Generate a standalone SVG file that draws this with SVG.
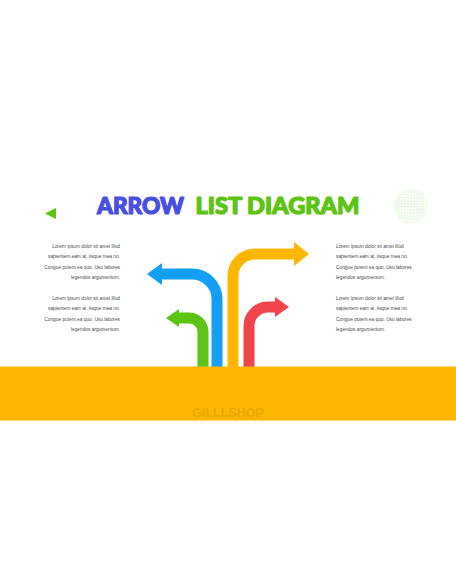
<svg xmlns="http://www.w3.org/2000/svg" width="456" height="586" viewBox="0 0 456 586">
  <style>
    .para { font-family: "Liberation Sans", Arial, sans-serif; font-size: 4.8px; fill: #4a4a4a; }
    .title { font-family: "Lato", "Liberation Sans", sans-serif; font-weight: 900; font-size: 22px; stroke-width: 1.2; stroke-linejoin: round; }
    .stem { fill: none; stroke-width: 11; }
  </style>
  <defs>
    <pattern id="dots" width="3" height="3" patternUnits="userSpaceOnUse">
      <circle cx="0.75" cy="0.75" r="0.55" fill="#8ccf63"/>
      <circle cx="2.25" cy="2.25" r="0.55" fill="#8ccf63"/>
    </pattern>
  </defs>
  <rect width="456" height="586" fill="#ffffff"/>

  <g id="decor-triangle">
    <polygon points="45,213.5 56,208 56,219" fill="#5cc412"/>
  </g>
  <g id="decor-dots">
    <circle cx="411" cy="206" r="17" fill="url(#dots)" opacity="0.55"/>
  </g>

  <g id="title">
    <text class="title" x="97" y="214" fill="#4a4fe0" stroke="#4a4fe0" textLength="87" lengthAdjust="spacingAndGlyphs">ARROW</text>
    <text class="title" x="195.5" y="214" fill="#5cc412" stroke="#5cc412" textLength="164" lengthAdjust="spacingAndGlyphs">LIST DIAGRAM</text>
  </g>

  <g id="text-left-1" class="para" text-anchor="end">
    <text x="120" y="248">Lorem ipsum dolor sit amet illud</text>
    <text x="120" y="258.4">sapientem eam at, iisque mea no.</text>
    <text x="120" y="268.8">Congue putent ea quo. Usu labores</text>
    <text x="120" y="279.2">legendos argumentum.</text>
  </g>
  <g id="text-left-2" class="para" text-anchor="end">
    <text x="120" y="300">Lorem ipsum dolor sit amet illud</text>
    <text x="120" y="310.4">sapientem eam at, iisque mea no.</text>
    <text x="120" y="320.8">Congue putent ea quo. Usu labores</text>
    <text x="120" y="331.2">legendos argumentum.</text>
  </g>
  <g id="text-right-1" class="para">
    <text x="336" y="248">Lorem ipsum dolor sit amet illud</text>
    <text x="336" y="258.4">sapientem eam at, iisque mea no.</text>
    <text x="336" y="268.8">Congue putent ea quo. Usu labores</text>
    <text x="336" y="279.2">legendos argumentum.</text>
  </g>
  <g id="text-right-2" class="para">
    <text x="336" y="300">Lorem ipsum dolor sit amet illud</text>
    <text x="336" y="310.4">sapientem eam at, iisque mea no.</text>
    <text x="336" y="320.8">Congue putent ea quo. Usu labores</text>
    <text x="336" y="331.2">legendos argumentum.</text>
  </g>

  <g id="arrows">
    <g id="arrow-blue">
      <path class="stem" stroke="#14a0f2" d="M217,367 V299 A25 25 0 0 0 192,274 H160"/>
      <polygon points="147,274 162,263 162,285" fill="#14a0f2"/>
    </g>
    <g id="arrow-green">
      <path class="stem" stroke="#5cc412" d="M203,367 V332 A14 14 0 0 0 189,318 H177"/>
      <polygon points="166,318 179,309 179,327" fill="#5cc412"/>
    </g>
    <g id="arrow-yellow">
      <path class="stem" stroke="#ffb600" d="M233,367 V276 A22 22 0 0 1 255,254 H296"/>
      <polygon points="309,254 294,242 294,266" fill="#ffb600"/>
    </g>
    <g id="arrow-red">
      <path class="stem" stroke="#f0434a" d="M249,367 V326 A19 19 0 0 1 268,307 H277"/>
      <polygon points="289,307 275,297 275,317" fill="#f0434a"/>
    </g>
  </g>

  <g id="band">
    <rect x="0" y="366.5" width="456" height="54" fill="#ffb600"/>
    <text x="228" y="416.5" text-anchor="middle" font-family="Liberation Sans, Arial, sans-serif" font-weight="bold" font-size="12.5" fill="#e0a200" opacity="0.7">GILLLSHOP</text>
  </g>
</svg>
